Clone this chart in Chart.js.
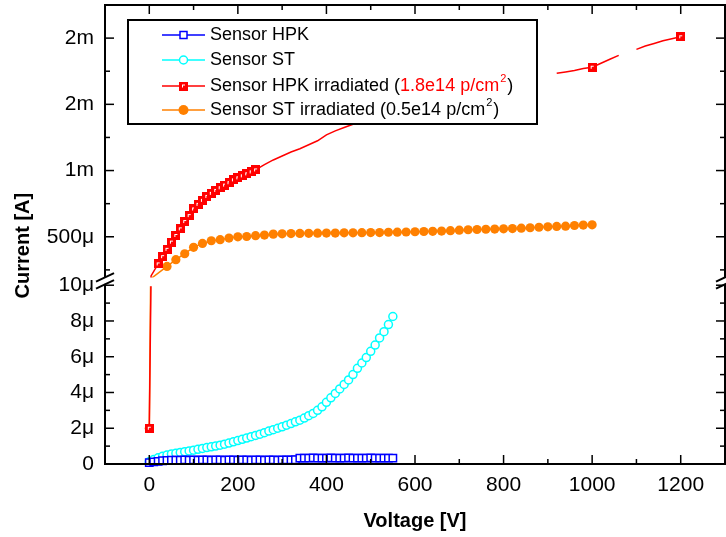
<!DOCTYPE html>
<html>
<head>
<meta charset="utf-8">
<script src="https://cdn.jsdelivr.net/npm/chart.js@4"></script>
<style>
    html, body { margin: 0; padding: 0; background: #fff; }
    #wrap { width: 726px; height: 537px; position: relative; }
</style>
</head>
<body>
<div id="wrap"><canvas id="iv-chart"></canvas></div>
<script>
// voltages of the non irradiated scans [V]
const scanV = [0, 10, 20, 30, 40, 50, 60, 70, 80, 90, 100, 110, 120, 130, 140, 150, 160, 170, 180, 190,
    200, 210, 220, 230, 240, 250, 260, 270, 280, 290, 300, 310, 320, 330, 340, 350, 360, 370, 380, 390,
    400, 410, 420, 430, 440, 450, 460, 470, 480, 490, 500, 510, 520, 530, 540, 550];

// currents in μA
const hpkI = [0.08, 0.12, 0.15, 0.18, 0.2, 0.21, 0.22, 0.22, 0.23, 0.22, 0.23, 0.22, 0.23, 0.23, 0.22, 0.23, 0.23, 0.22, 0.23, 0.23,
    0.22, 0.23, 0.23, 0.22, 0.23, 0.23, 0.22, 0.23, 0.23, 0.22, 0.23, 0.23, 0.23, 0.24, 0.33, 0.33, 0.33, 0.34, 0.33, 0.33,
    0.33, 0.34, 0.33, 0.33, 0.33, 0.34, 0.33, 0.33, 0.33, 0.33, 0.34, 0.33, 0.33, 0.33, 0.33, 0.33];
const stI = [0.13, 0.25, 0.35, 0.43, 0.5, 0.56, 0.6, 0.65, 0.69, 0.73, 0.77, 0.82, 0.87, 0.92, 0.96, 1.0, 1.05, 1.11, 1.17, 1.24,
    1.31, 1.38, 1.45, 1.53, 1.6, 1.67, 1.75, 1.84, 1.92, 2.0, 2.08, 2.17, 2.26, 2.36, 2.45, 2.57, 2.7, 2.83, 3.0, 3.2,
    3.45, 3.7, 3.95, 4.2, 4.45, 4.7, 5.0, 5.35, 5.65, 5.95, 6.3, 6.65, 7.05, 7.4, 7.8, 8.25];

const hpkIrrV = [0, 4, 20, 30, 40, 50, 60, 70, 80, 90, 100, 110, 120, 130, 140, 150, 160, 170, 180, 190, 200, 210, 220, 230, 240,
    260, 280, 300, 320, 340, 360, 380, 400, 420, 440, 460, 480, 500, 520, 540, 560, 580, 600, 620, 640, 660, 680, 700,
    720, 740, 760, 780, 800, 820, 840, 860, 880, 900, 920, 940, 960, 980, 1000, 1020, 1040, 1060, 1080, 1100, 1120,
    1140, 1160, 1180, 1200];
const hpkIrrI = [2, 205, 295, 350, 405, 460, 510, 560, 615, 660, 710, 745, 775, 805, 828, 850, 870, 890, 908, 930, 945, 960, 975, 990, 1005,
    1045, 1080, 1110, 1140, 1165, 1195, 1225, 1270, 1300, 1325, 1350, 1370, 1395, 1415, 1440, 1460, 1480, 1500, 1520, 1540, 1560, 1575, 1595,
    1610, 1625, 1640, 1655, 1670, 1680, 1695, 1705, null, null, 1735, 1745, 1755, 1770, 1780, 1810, 1840, 1870, null, 1915, 1940,
    1960, 1980, 1995, 2010];

const stIrrV = [0, 3, 40, 60, 80, 100, 120, 140, 160, 180, 200, 220, 240, 260, 280, 300, 320, 340, 360, 380, 400, 420,
    440, 460, 480, 500, 520, 540, 560, 580, 600, 620, 640, 660, 680, 700, 720, 740, 760, 780, 800, 820,
    840, 860, 880, 900, 920, 940, 960, 980, 1000];
const stIrrI = [2, 150, 276, 327, 372, 420, 450, 470, 478, 490, 500, 502, 508, 513, 520, 522, 524, 525, 526, 527, 528, 528,
    530, 530, 531, 532, 532, 534, 535, 536, 538, 540, 541, 543, 546, 550, 553, 555, 557, 558, 560, 562,
    565, 568, 572, 575, 578, 580, 585, 588, 590];

// ticks
const xTickValues = [0, 200, 400, 600, 800, 1000, 1200];
const xMinorTicks = [100, 300, 500, 700, 900, 1100];
const yTickValues = [0, 2, 4, 6, 8, 10, 500, 1000, 1500, 2000];
const yTickLabels = ["0", "2μ", "4μ", "6μ", "8μ", "10μ", "500μ", "1m", "2m", "2m"];
const yMinorTicks = [1, 3, 5, 7, 9, 250, 750, 1250, 1750];

// broken y axis: 0..10μA linear, then 200μA..2.25mA linear with a different scale
const LOW_MAX = 10;
const HIGH_MIN = 200;
const GAP = 0.487;
const HIGH_SCALE = 0.007408;
function toAxis(i) {
    if (i <= LOW_MAX) return i;
    if (i < HIGH_MIN) return LOW_MAX + GAP * (i - LOW_MAX) / (HIGH_MIN - LOW_MAX);
    return LOW_MAX + GAP + (i - HIGH_MIN) * HIGH_SCALE;
}
function points(vs, is) {
    return vs.map((v, k) => ({ x: v, y: is[k] === null ? null : toAxis(is[k]) }));
}

const FONT = "Arial, 'Liberation Sans', sans-serif";
Chart.defaults.font.family = FONT;
Chart.defaults.color = "#000";

const RED = "#ff0000";
const BLUE = "#0000ff";
const CYAN = "#00ffff";
const ORANGE = "#ff8000";

// red filled square with the little white corner
function redSquare() {
    const c = document.createElement("canvas");
    c.width = 9;
    c.height = 9;
    const g = c.getContext("2d");
    g.fillStyle = RED;
    g.fillRect(0, 0, 9, 9);
    g.fillStyle = "#fff";
    g.fillRect(3, 3, 3, 1);
    g.fillRect(3, 3, 1, 3);
    return c;
}
const redMarker = redSquare();

function line(ctx, x1, y1, x2, y2) {
    ctx.beginPath();
    ctx.moveTo(x1, y1);
    ctx.lineTo(x2, y2);
    ctx.stroke();
}

function drawLegend(ctx) {
    const bx = 128, by = 20, bw = 409, bh = 104;
    ctx.save();
    ctx.fillStyle = "#fff";
    ctx.fillRect(bx, by, bw, bh);
    ctx.strokeStyle = "#000";
    ctx.lineWidth = 2;
    ctx.strokeRect(bx, by, bw, bh);

    const rows = [35, 60, 86, 110];
    const lx1 = 162, lx2 = 205, mx = 183.5, tx = 210;
    const colors = [BLUE, CYAN, RED, ORANGE];
    rows.forEach((ry, k) => {
        ctx.strokeStyle = colors[k];
        ctx.lineWidth = 1.5;
        line(ctx, lx1, ry, lx2, ry);
        if (k === 0) {
            ctx.fillStyle = "#fff";
            ctx.fillRect(mx - 3.5, ry - 3.5, 7, 7);
            ctx.strokeRect(mx - 3.5, ry - 3.5, 7, 7);
        } else if (k === 1) {
            ctx.fillStyle = "#fff";
            ctx.beginPath();
            ctx.arc(mx, ry, 4, 0, Math.PI * 2);
            ctx.fill();
            ctx.stroke();
        } else if (k === 2) {
            ctx.drawImage(redMarker, mx - 4.5, ry - 4.5);
        } else {
            ctx.fillStyle = ORANGE;
            ctx.beginPath();
            ctx.arc(mx, ry, 5, 0, Math.PI * 2);
            ctx.fill();
        }
    });

    ctx.textBaseline = "middle";
    ctx.textAlign = "left";
    const parts = [
        [["Sensor HPK", "#000", 0]],
        [["Sensor ST", "#000", 0]],
        [["Sensor HPK irradiated (", "#000", 0], ["1.8e14 p/cm", RED, 0], ["2", RED, 1], [")", "#000", 0]],
        [["Sensor ST irradiated (0.5e14 p/cm", "#000", 0], ["2", "#000", 1], [")", "#000", 0]],
    ];
    parts.forEach((segs, k) => {
        let x = tx;
        segs.forEach(([t, col, sup]) => {
            ctx.font = sup ? "11px " + FONT : "18px " + FONT;
            ctx.fillStyle = col;
            ctx.fillText(t, x + (sup ? 1 : 0), rows[k] + (sup ? -7 : 0));
            x += ctx.measureText(t).width + (sup ? 2 : 0);
        });
    });
    ctx.restore();
}

function drawBreak(ctx, ax, yc) {
    ctx.save();
    ctx.fillStyle = "#fff";
    ctx.fillRect(ax - 2, yc - 3, 4, 6);
    ctx.strokeStyle = "#000";
    ctx.lineWidth = 2;
    line(ctx, ax - 9, yc - 3.5 + 4.2, ax + 9, yc - 3.5 - 4.2);
    line(ctx, ax - 9, yc + 3.5 + 4.2, ax + 9, yc + 3.5 - 4.2);
    ctx.restore();
}

const framePlugin = {
    id: "frame",
    afterDatasetsDraw(chart) {
        const { ctx, chartArea: a, scales } = chart;
        const yLo = scales.y.getPixelForValue(toAxis(LOW_MAX));
        const yHi = scales.y.getPixelForValue(toAxis(HIGH_MIN));
        ctx.save();
        ctx.fillStyle = "#fff";
        ctx.fillRect(a.left + 1, yHi + 1, a.width - 2, yLo - yHi);
        ctx.restore();
        drawLegend(ctx);
    },
    afterDraw(chart) {
        const { ctx, chartArea: a, scales } = chart;
        ctx.save();
        ctx.strokeStyle = "#000";
        ctx.lineWidth = 2;
        ctx.strokeRect(a.left, a.top, a.width, a.height);
        ctx.lineWidth = 1.5;
        xTickValues.concat(xMinorTicks).forEach((v, k) => {
            const len = k < xTickValues.length ? 9 : 5;
            const px = scales.x.getPixelForValue(v);
            line(ctx, px, a.bottom, px, a.bottom - len);
            line(ctx, px, a.top, px, a.top + len);
        });
        yTickValues.concat(yMinorTicks).forEach((v, k) => {
            const len = k < yTickValues.length ? 9 : 5;
            const py = scales.y.getPixelForValue(toAxis(v));
            line(ctx, a.left, py, a.left + len, py);
            line(ctx, a.right, py, a.right - len, py);
        });
        ctx.restore();
        const yc = (scales.y.getPixelForValue(toAxis(LOW_MAX)) + scales.y.getPixelForValue(toAxis(HIGH_MIN))) / 2;
        drawBreak(ctx, a.left, yc);
        drawBreak(ctx, a.right, yc);
    },
};

const hpkIrrRadius = (c) => {
    const x = c.raw ? c.raw.x : 0;
    return (x <= 240 && x !== 4) || (x >= 1000 && x % 200 === 0) ? 5 : 0;
};
const stIrrRadius = (c) => (c.raw && c.raw.x === 3 ? 0 : 4.6);

new Chart(document.getElementById("iv-chart"), {
    type: "line",
    data: {
        datasets: [
            {
                label: "Sensor HPK",
                data: points(scanV, hpkI),
                borderColor: BLUE,
                borderWidth: 1.5,
                pointStyle: "rect",
                pointRadius: 5.2,
                pointBorderWidth: 1.5,
                pointBorderColor: BLUE,
                pointBackgroundColor: "#fff",
            },
            {
                label: "Sensor ST",
                data: points(scanV, stI),
                borderColor: CYAN,
                borderWidth: 1.5,
                pointStyle: "circle",
                pointRadius: 4,
                pointBorderWidth: 1.5,
                pointBorderColor: CYAN,
                pointBackgroundColor: "#fff",
            },
            {
                label: "Sensor HPK irradiated",
                data: points(hpkIrrV, hpkIrrI),
                borderColor: RED,
                borderWidth: 1.5,
                pointStyle: redMarker,
                pointRadius: hpkIrrRadius,
                spanGaps: false,
            },
            {
                label: "Sensor ST irradiated",
                data: points(stIrrV, stIrrI),
                borderColor: ORANGE,
                borderWidth: 1.5,
                pointStyle: "circle",
                pointRadius: stIrrRadius,
                pointBorderWidth: 0,
                pointBackgroundColor: ORANGE,
            },
        ],
    },
    options: {
        responsive: true,
        maintainAspectRatio: false,
        animation: false,
        clip: false,
        layout: { autoPadding: false, padding: { top: 5, right: 1, left: 0, bottom: 0 } },
        plugins: {
            legend: { display: false },
            tooltip: { enabled: false },
        },
        scales: {
            x: {
                type: "linear",
                min: -100,
                max: 1300,
                afterBuildTicks: (s) => { s.ticks = xTickValues.map((v) => ({ value: v })); },
                afterFit: (s) => {
                    s.height = 73;
                    s.paddingLeft = 0;
                    s.paddingRight = 0;
                    s.paddingTop = 0;
                    s.paddingBottom = 0;
                },
                grid: { display: false, drawTicks: false },
                border: { display: false },
                ticks: {
                    padding: 9,
                    font: { size: 21 },
                    color: "#000",
                    maxRotation: 0,
                    callback: (value) => String(value),
                },
                title: { display: true, text: "Voltage [V]", font: { size: 20, weight: "bold" }, padding: { top: 0, bottom: 4 } },
            },
            y: {
                type: "linear",
                min: 0,
                max: toAxis(2250),
                afterBuildTicks: (s) => { s.ticks = yTickValues.map((v) => ({ value: toAxis(v) })); },
                afterFit: (s) => {
                    s.width = 105;
                    s.paddingLeft = 0;
                    s.paddingRight = 0;
                    s.paddingTop = 0;
                    s.paddingBottom = 0;
                },
                grid: { display: false, drawTicks: false },
                border: { display: false },
                ticks: {
                    padding: 11,
                    font: { size: 21 },
                    color: "#000",
                    callback: (value, index) => yTickLabels[index],
                },
                // trailing spaces push the rotated title a little lower, as in the original
                title: { display: true, text: "Current [A]    ", font: { size: 20, weight: "bold" }, padding: { top: 11, bottom: 0 } },
            },
        },
    },
    plugins: [framePlugin],
});
</script>
</body>
</html>
